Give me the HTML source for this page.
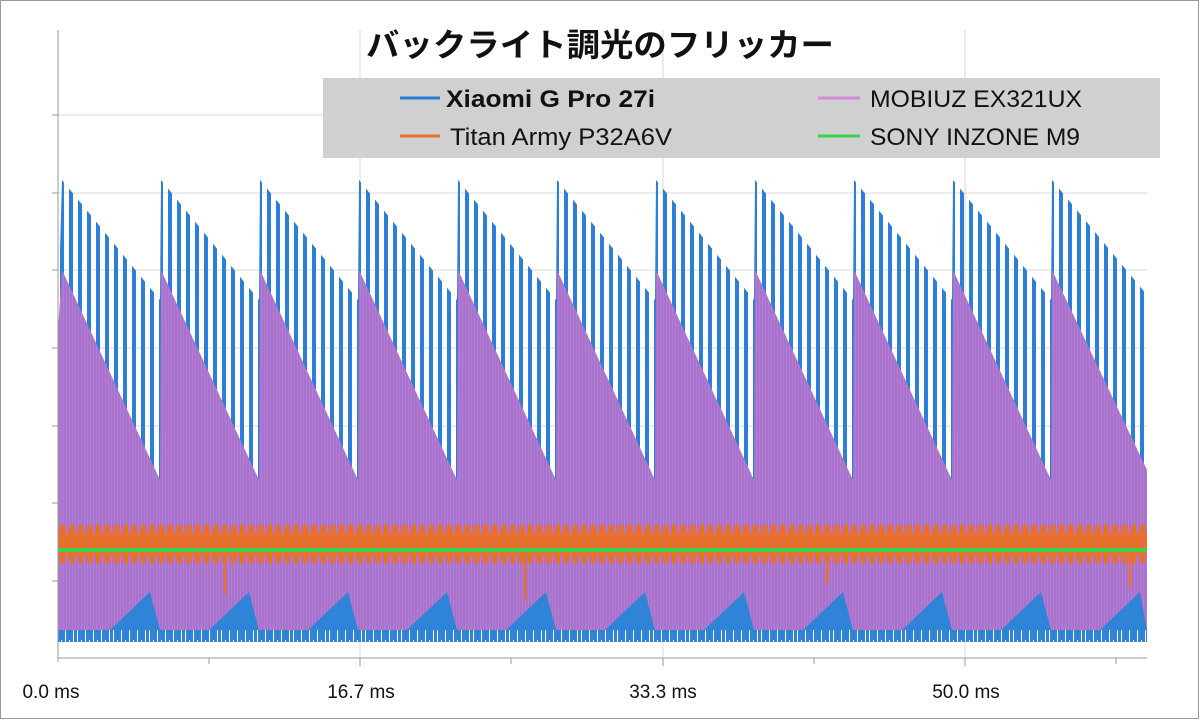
<!DOCTYPE html>
<html><head><meta charset="utf-8"><style>
body{margin:0;background:#fff}
#w{position:relative;width:1200px;height:720px;overflow:hidden;font-family:"Liberation Sans","Noto Sans CJK JP",sans-serif}
</style></head><body><div id="w">
<svg width="1200" height="720" xmlns="http://www.w3.org/2000/svg">
<defs>
<pattern id="pb" patternUnits="userSpaceOnUse" x="58" y="0" width="9" height="720"><rect x="2" y="0" width="4" height="720" fill="#2b7fd6"/></pattern>
<pattern id="pb2" patternUnits="userSpaceOnUse" x="58" y="0" width="4" height="720"><rect x="0" y="0" width="3" height="720" fill="#2f84d8"/></pattern>
<pattern id="pp" patternUnits="userSpaceOnUse" x="58" y="0" width="3" height="720"><rect x="0" y="0" width="3" height="720" fill="#a873cc"/><rect x="2" y="0" width="1" height="720" fill="#b47cd2"/></pattern>
<pattern id="po" patternUnits="userSpaceOnUse" x="58" y="0" width="9" height="720"><ellipse cx="4.5" cy="530" rx="3.2" ry="6" fill="#e8702f"/><ellipse cx="4.5" cy="557" rx="3.2" ry="7" fill="#e8702f"/></pattern>
</defs>
<rect x="0.5" y="0.5" width="1198" height="718" fill="#fff" stroke="#999"/>
<g stroke="#d9d9d9" stroke-width="1">
<line x1="58" x2="1147" y1="115" y2="115"/><line x1="58" x2="1147" y1="193" y2="193"/><line x1="58" x2="1147" y1="270" y2="270"/><line x1="58" x2="1147" y1="348" y2="348"/><line x1="58" x2="1147" y1="426" y2="426"/><line x1="58" x2="1147" y1="503" y2="503"/><line x1="58" x2="1147" y1="581" y2="581"/>
<line x1="360" x2="360" y1="30" y2="658"/><line x1="663" x2="663" y1="30" y2="658"/><line x1="965" x2="965" y1="30" y2="658"/>
</g>
<polygon fill="url(#pb)" points="58,640 58,320 62,180 160,300 161,180 259,300 260,180 358,300 359,180 457,300 458,180 556,300 557,180 655,300 656,180 754,300 755,180 853,300 854,180 952,300 953,180 1051,300 1052,180 1147,295 1147,640"/>
<rect x="58" y="622" width="1089" height="20" fill="url(#pb2)"/>
<polygon fill="url(#pp)" points="58,630 58,330 62,270 160,480 161,270 259,480 260,270 358,480 359,270 457,480 458,270 556,480 557,270 655,480 656,270 754,480 755,270 853,480 854,270 952,480 953,270 1051,480 1052,270 1147,470 1147,630"/>
<g fill="#2f84d8">
<polygon points="110,630 150,592 160,630"/><polygon points="209,630 249,592 259,630"/><polygon points="308,630 348,592 358,630"/><polygon points="407,630 447,592 457,630"/><polygon points="506,630 546,592 556,630"/><polygon points="605,630 645,592 655,630"/><polygon points="704,630 744,592 754,630"/><polygon points="803,630 843,592 853,630"/><polygon points="902,630 942,592 952,630"/><polygon points="1001,630 1041,592 1051,630"/><polygon points="1100,630 1140,592 1147,630"/>
</g>
<rect x="58" y="523" width="1089" height="44" fill="url(#po)"/>
<rect x="58" y="533" width="1089" height="22" fill="#e8702f"/>
<g stroke="#e8702f" stroke-width="2.5"><line x1="225" x2="225" y1="555" y2="595"/><line x1="525" x2="525" y1="555" y2="600"/><line x1="827" x2="827" y1="555" y2="585"/><line x1="1130" x2="1130" y1="555" y2="588"/></g>
<line x1="58" x2="1147" y1="550" y2="550" stroke="#3cd24f" stroke-width="4"/>
<g stroke="#999">
<line x1="58" y1="30" x2="58" y2="662"/><line x1="58" y1="658" x2="1147" y2="658"/>
<line x1="52" x2="58" y1="115" y2="115"/><line x1="52" x2="58" y1="193" y2="193"/><line x1="52" x2="58" y1="270" y2="270"/><line x1="52" x2="58" y1="348" y2="348"/><line x1="52" x2="58" y1="426" y2="426"/><line x1="52" x2="58" y1="503" y2="503"/><line x1="52" x2="58" y1="581" y2="581"/>
<line x1="360" x2="360" y1="658" y2="666"/><line x1="663" x2="663" y1="658" y2="666"/><line x1="965" x2="965" y1="658" y2="666"/>
<line x1="209" x2="209" y1="658" y2="664"/><line x1="511" x2="511" y1="658" y2="664"/><line x1="814" x2="814" y1="658" y2="664"/><line x1="1116" x2="1116" y1="658" y2="664"/>
</g>
<rect x="323" y="78" width="837" height="80" fill="#d0d0d0"/>
<line x1="400" y1="98" x2="440" y2="98" stroke="#2b7fd6" stroke-width="3"/>
<line x1="400" y1="136" x2="440" y2="136" stroke="#e8702f" stroke-width="3"/>
<line x1="818" y1="98" x2="860" y2="98" stroke="#d48ad8" stroke-width="3"/>
<line x1="818" y1="136" x2="860" y2="136" stroke="#3cd24f" stroke-width="3"/>
<g font-size="24" fill="#111">
<text x="446" y="107" font-weight="bold" textLength="209" lengthAdjust="spacingAndGlyphs">Xiaomi G Pro 27i</text>
<text x="450" y="145" textLength="222" lengthAdjust="spacingAndGlyphs">Titan Army P32A6V</text>
<text x="870" y="107" textLength="212" lengthAdjust="spacingAndGlyphs">MOBIUZ EX321UX</text>
<text x="870" y="145" textLength="210" lengthAdjust="spacingAndGlyphs">SONY INZONE M9</text>
</g>
<text x="600" y="56" text-anchor="middle" font-size="32" font-weight="bold" fill="#111" textLength="468" lengthAdjust="spacingAndGlyphs">バックライト調光のフリッカー</text>
<g font-size="19" fill="#111" text-anchor="middle">
<text x="51" y="698">0.0 ms</text><text x="361" y="698">16.7 ms</text>
<text x="663" y="698">33.3 ms</text><text x="966" y="698">50.0 ms</text>
</g>
</svg></div>
</body></html>
